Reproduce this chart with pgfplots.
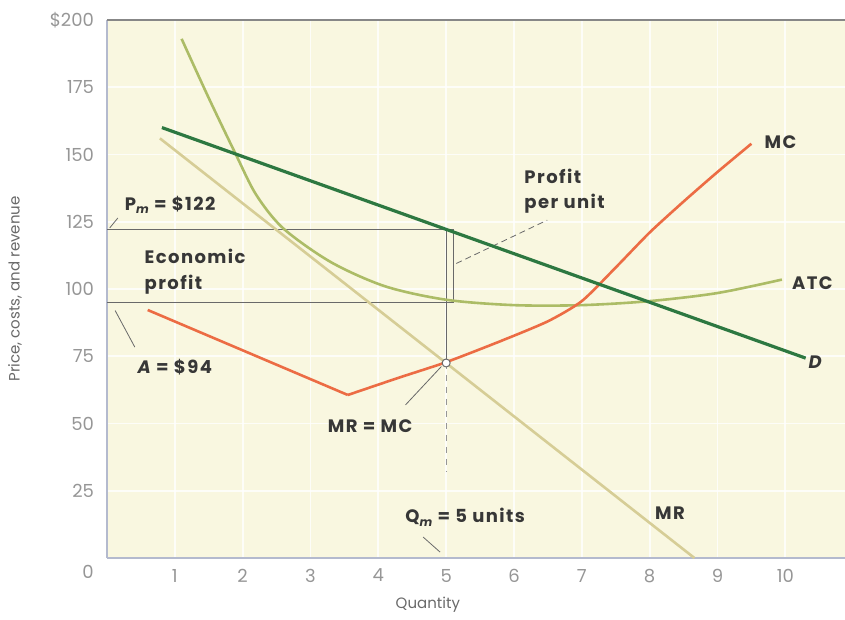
\documentclass[border=0pt]{standalone}
\usepackage{pgfplots}
\pgfplotsset{compat=1.18}
\usepackage{fontspec}
\setmainfont{Poppins}
\newfontfamily\lab[LetterSpace=8]{Poppins}
\definecolor{bg}{RGB}{249,247,224}
\definecolor{dgreen}{RGB}{45,120,65}
\definecolor{atc}{RGB}{172,188,102}
\definecolor{mr}{RGB}{214,205,150}
\definecolor{mc}{RGB}{236,108,68}
\definecolor{anno}{RGB}{105,105,105}
\definecolor{txt}{RGB}{55,55,55}
\definecolor{tick}{RGB}{150,150,150}
\definecolor{axl}{RGB}{180,186,206}
\newcommand{\lb}{\lab\bfseries\fontsize{9}{10}\selectfont\color{txt}}
\begin{document}
\begin{tikzpicture}
\begin{axis}[
  at={(0,0)}, anchor=south west, scale only axis,
  width=369pt, height=269pt,
  xmin=0, xmax=10.88, ymin=0, ymax=200,
  xtick={1,...,10}, ytick={25,50,...,200},
  yticklabels={25,50,75,100,125,150,175,\$200},
  /pgf/number format/assume math mode=true,
  axis line style={draw=none},
  major tick length=0pt,
  axis background/.style={fill=bg},
  grid=major, major grid style={white, line width=0.9pt, opacity=0.8},
  tick label style={font=\fontsize{9}{9}\selectfont, text=tick},
  yticklabel style={xshift=-3pt},
  xticklabel style={yshift=-2pt},
  clip=false,
]
% axis lines
\draw[axl, line width=1.4pt] (rel axis cs:0,0) -- (rel axis cs:1,0);
\draw[axl, line width=1.4pt] (rel axis cs:0,0) -- (rel axis cs:0,1);
\draw[anno!80, line width=0.6pt] (rel axis cs:0,1) -- (rel axis cs:1,1);

% annotation lines
\addplot[anno, line width=0.5pt] coordinates {(0,122) (5,122)};
\addplot[anno, line width=0.5pt] coordinates {(0,95) (5,95)};
\addplot[anno, line width=0.5pt] coordinates {(5,122) (5,72.5)};
\addplot[anno!70, line width=0.5pt, dashed] coordinates {(5,72.5) (5,32)};
\addplot[anno, line width=0.5pt] coordinates {(5,122) (5.11,122) (5.11,95) (5,95)};
\addplot[anno, line width=0.4pt, densely dashed] coordinates {(5.15,109.5) (6.49,125.6)};

% MR
\addplot[mr, line width=1.3pt] coordinates {(0.78,156) (8.66,0)};
% ATC
\addplot[atc, line width=1.3pt, smooth, tension=0.5] coordinates {
  (1.1,193) (1.5,171) (1.9,150) (2.2,135) (2.6,122.5) (3.3,110) (4.1,101)
  (5,96) (6,94) (7,94) (8,95.5) (9,98.5) (9.95,103.5)};
% MC
\addplot[mc, line width=1.3pt] coordinates {(0.6,92.2) (3.55,60.6)};
\addplot[mc, line width=1.3pt, smooth, tension=0.4] coordinates {
  (3.55,60.6) (4.3,67) (5,72.8) (5.8,80.6) (6.5,88) (7,95.5) (7.5,108)
  (8,121) (8.5,132.5) (9,143.5) (9.5,154)};
% D
\addplot[dgreen, line width=1.6pt] coordinates {(0.81,160) (10.3,74.3)};

% leaders
\addplot[anno, line width=0.4pt] coordinates {(0.04,122.7) (0.16,126.4)};
\addplot[anno, line width=0.4pt] coordinates {(0.12,92) (0.41,78.4)};
\addplot[anno, line width=0.4pt] coordinates {(4.4,56.9) (4.93,71.2)};
\addplot[anno, line width=0.4pt] coordinates {(4.66,7.8) (4.91,2.2)};

% MR=MC point
\addplot[anno, line width=0.5pt, mark=*, mark size=2pt, mark options={fill=white}, only marks] coordinates {(5,72.5)};

% labels
\node at (axis cs:0.93,131.2) {\lb P\raisebox{-0.35ex}{\fontsize{6}{6}\selectfont\itshape m} = \$122};
\node[anchor=west] at (axis cs:0.45,112) {\lb Economic};
\node[anchor=west] at (axis cs:0.45,101.5) {\lb profit};
\node at (axis cs:1.0,71) {\lb \itshape A\upshape{} = \$94};
\node at (axis cs:3.88,49) {\lb MR = MC};
\node at (axis cs:5.28,15.2) {\lb Q\raisebox{-0.35ex}{\fontsize{6}{6}\selectfont\itshape m} = 5 units};
\node at (axis cs:8.3,16.7) {\lb MR};
\node[anchor=west] at (axis cs:6.05,142) {\lb Profit};
\node[anchor=west] at (axis cs:6.05,131.6) {\lb per unit};
\node at (axis cs:9.93,154.6) {\lb MC};
\node at (axis cs:10.4,102) {\lb ATC};
\node at (axis cs:10.44,72.9) {\lb\itshape D};

% axis labels
\node[font=\fontsize{9}{9}\selectfont, text=tick] at (axis cs:-0.28,-5.3) {0};
\node[font=\fontsize{7.5}{8}\selectfont, text=anno] at (axis cs:4.73,-17.5) {Quantity};
\node[font=\fontsize{7.5}{8}\selectfont, text=anno, rotate=90] at (axis cs:-1.357,100) {Price, costs, and revenue};
\end{axis}
\pgfresetboundingbox
\path[use as bounding box] (-53.5pt,-31pt) rectangle (369pt,279pt);
\end{tikzpicture}
\end{document}
